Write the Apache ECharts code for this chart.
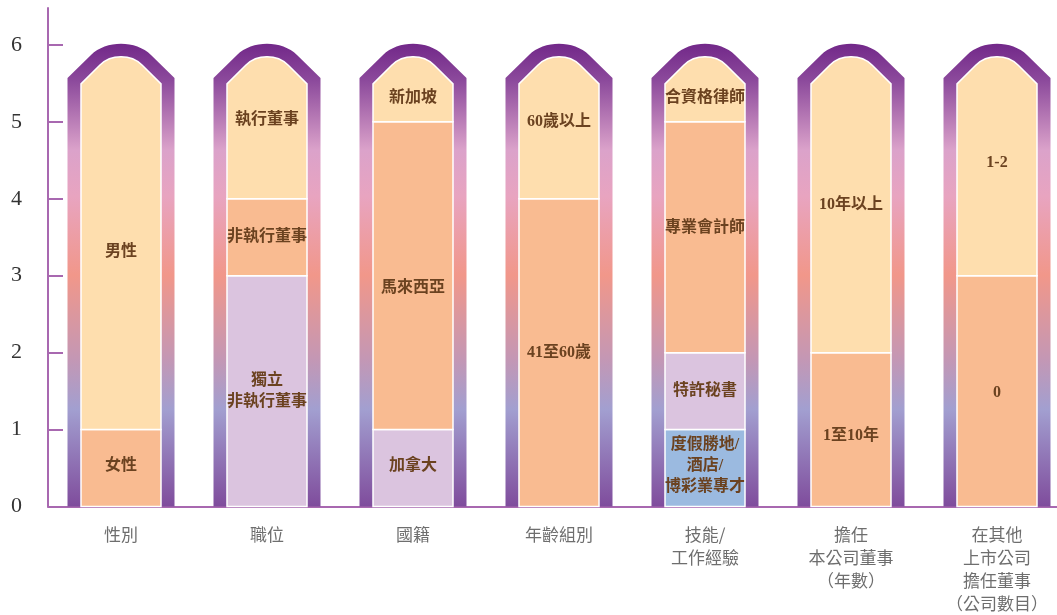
<!DOCTYPE html>
<html><head><meta charset="utf-8">
<script src="https://cdn.jsdelivr.net/npm/echarts@6/dist/echarts.min.js"></script>
<style>html,body{margin:0;padding:0;background:#fff}#c{width:1057px;height:615px}</style>
</head><body><div id="c"></div>
<script>
const categories = ['性別','職位','國籍','年齡組別','技能/\n工作經驗','擔任\n本公司董事\n（年數）','在其他\n上市公司\n擔任董事\n（公司數目）'];
const yTicks = [0,1,2,3,4,5,6];
// stacked from bottom to top
const blueValues     = [0,0,0,0,1,0,0];
const lavenderValues = [0,3,1,0,1,0,0];
const salmonValues   = [1,1,4,4,3,2,3];
const peachValues    = [5,2,1,2,1,4,3];
const blueLabels     = ['','','','','度假勝地/\n酒店/\n博彩業專才','',''];
const lavenderLabels = ['','獨立\n非執行董事','加拿大','','特許秘書','',''];
const salmonLabels   = ['女性','非執行董事','馬來西亞','41至60歲','專業會計師','1至10年','0'];
const peachLabels    = ['男性','執行董事','新加坡','60歲以上','合資格律師','10年以上','1-2'];

// layout-only label nudges in px
const labelNudge = {
  blue:     [0,0,0,0,-2,0,0],
  lavender: [0,0,-2,0,0,0,0],
  salmon:   [-2,0,12,0,-9,6,2],
  peach:    [15,-2,14,0,14,6,3]
};

const groups = [
  {key:'blue', values: blueValues, labels: blueLabels, color:'#9bbae0'},
  {key:'lavender', values: lavenderValues, labels: lavenderLabels, color:'#dbc4df'},
  {key:'salmon', values: salmonValues, labels: salmonLabels, color:'#f9bb91'},
  {key:'peach', values: peachValues, labels: peachLabels, color:'#fedeae'}
];
const totals = categories.map((_, i) => groups.reduce((s, g) => s + g.values[i], 0));
const base = categories.map(() => 0);

const frameGradient = {
  type:'linear', x:0, y:0, x2:0, y2:1,
  colorStops:[
    {offset:0, color:'#722889'},
    {offset:0.08, color:'#8c4a9c'},
    {offset:0.23, color:'#dba2ca'},
    {offset:0.33, color:'#e8a4c0'},
    {offset:0.5, color:'#f1978a'},
    {offset:0.68, color:'#c497b4'},
    {offset:0.79, color:'#a29fd0'},
    {offset:1, color:'#7f4c9c'}
  ]
};

const series = [];
series.push({
  type:'custom',
  name:'frame',
  coordinateSystem:'cartesian2d',
  encode:{x:0, y:1},
  data: categories.map((_, i) => [i, totals[i]]),
  silent:true,
  renderItem: (params, api) => {
    const i = api.value(0);
    const pb = api.coord([i, 0]);
    const pt = api.coord([i, api.value(1)]);
    const cx = pb[0], hw = 53.5, yB = pb[1], yT = pt[1];
    const d = `M${cx-hw} ${yB} L${cx-hw} ${yT+33} L${cx-30} ${yT+10} C${cx-15} ${yT-5} ${cx+15} ${yT-5} ${cx+30} ${yT+10} L${cx+hw} ${yT+33} L${cx+hw} ${yB} Z`;
    return {type:'path', shape:{pathData:d}, style:{fill: frameGradient}};
  }
});

groups.forEach(g => {
  const data = categories.map((_, i) => {
    const s = base[i];
    base[i] += g.values[i];
    return [i, s, base[i]];
  });
  series.push({
    type:'custom',
    name:g.key,
    coordinateSystem:'cartesian2d',
    encode:{x:0, y:[1,2]},
    data,
    silent:true,
    renderItem: (params, api) => {
      const i = api.value(0), s = api.value(1), e = api.value(2);
      if (e - s <= 0) return null;
      const pb = api.coord([i, s]);
      const pt = api.coord([i, e]);
      const cx = pb[0], hw = 40, yB = pb[1], yT = pt[1];
      let shapeEl;
      const st = {fill: g.color, stroke:'#ffffff', lineWidth:1.5};
      if (e >= totals[i]) {
        const d = `M${cx-hw} ${yB} L${cx-hw} ${yT+39} L${cx-21} ${yT+20} C${cx-10} ${yT+9} ${cx+10} ${yT+9} ${cx+21} ${yT+20} L${cx+hw} ${yT+39} L${cx+hw} ${yB} Z`;
        shapeEl = {type:'path', shape:{pathData:d}, style:st};
      } else {
        shapeEl = {type:'rect', shape:{x:cx-hw, y:yT, width:2*hw, height:yB-yT}, style:st};
      }
      const txt = g.labels[params.dataIndex];
      const children = [shapeEl];
      if (txt) {
        children.push({
          type:'text',
          x: cx,
          y: (yB + yT) / 2 + labelNudge[g.key][params.dataIndex],
          style:{
            text: txt,
            fill:'#6b4220',
            font:'bold 16px "Liberation Serif", "Noto Sans CJK TC"',
            align:'center',
            verticalAlign:'middle',
            lineHeight:21
          }
        });
      }
      return {type:'group', children};
    }
  });
});

const chart = echarts.init(document.getElementById('c'), null, {renderer:'canvas'});
chart.setOption({
  animation:false,
  backgroundColor:'#ffffff',
  grid:{left:48, top:8, width:1022, height:498.5, outerBoundsMode:'none', containLabel:false},
  xAxis:{
    type:'category',
    data: categories,
    offset:3,
    axisLine:{show:true, lineStyle:{color:'#a868b0', width:2}},
    axisTick:{show:false},
    axisLabel:{interval:0, color:'#6e6e6e', fontSize:17, lineHeight:23, margin:14, fontFamily:'"Noto Sans CJK TC", sans-serif'},
    splitLine:{show:false}
  },
  yAxis:{
    type:'value',
    min:0, max:6.48,
    interval:1,
    axisLine:{show:true, lineStyle:{color:'#a868b0', width:2}},
    axisTick:{show:true, inside:true, length:15, customValues: yTicks, lineStyle:{color:'#a868b0', width:2}},
    axisLabel:{customValues: yTicks, color:'#333333', fontSize:22, fontFamily:'"Liberation Serif", serif', margin:26},
    splitLine:{show:false}
  },
  series
});
</script>
</body></html>
